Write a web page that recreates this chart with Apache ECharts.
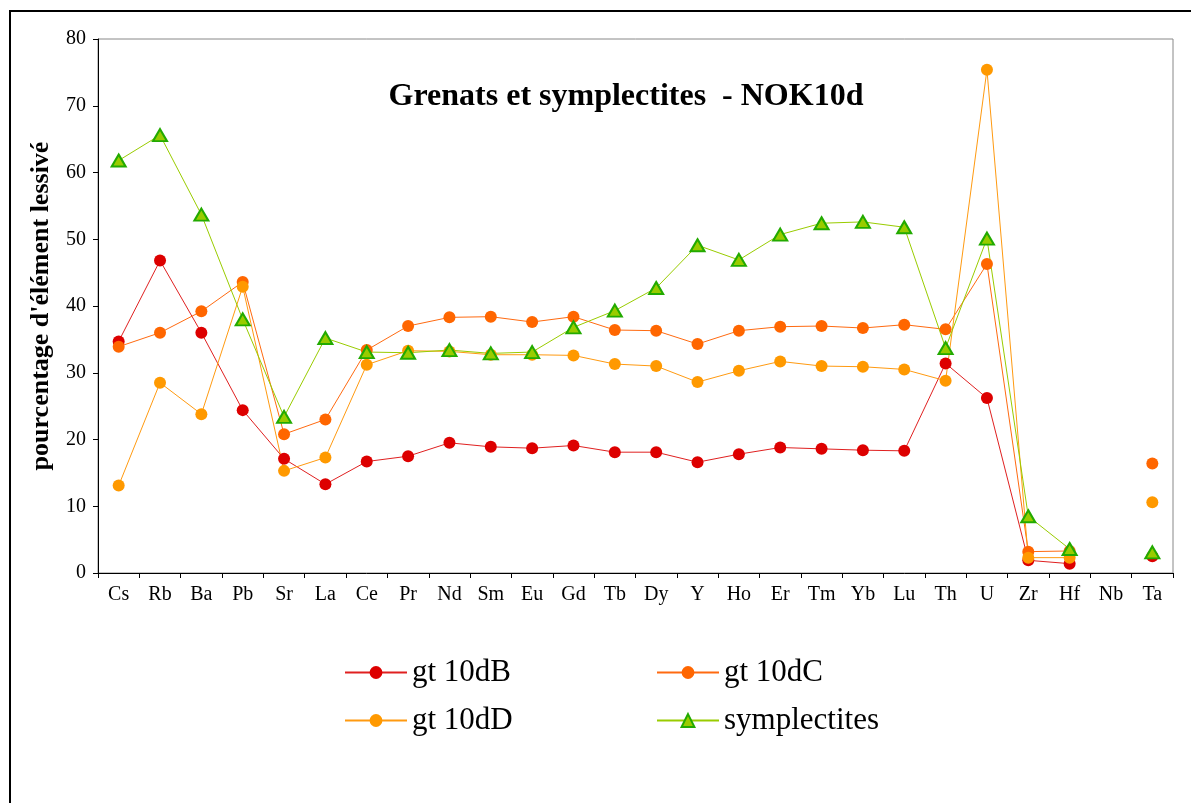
<!DOCTYPE html>
<html><head><meta charset="utf-8">
<script src="https://cdn.jsdelivr.net/npm/echarts@6/dist/echarts.min.js"></script>
<style>html,body{margin:0;padding:0;background:#fff}#c{width:1191px;height:803px}</style>
</head><body><div id="c"></div>
<script>
const categories = ['Cs','Rb','Ba','Pb','Sr','La','Ce','Pr','Nd','Sm','Eu','Gd','Tb','Dy','Y','Ho','Er','Tm','Yb','Lu','Th','U','Zr','Hf','Nb','Ta'];
const gt10dB = [34.7,46.8,36.0,24.4,17.1,13.3,16.7,17.5,19.5,18.9,18.7,19.1,18.1,18.1,16.6,17.8,18.8,18.6,18.4,18.3,31.4,26.2,1.9,1.4,null,2.5];
const gt10dC = [33.9,36.0,39.2,43.6,20.8,23.0,33.4,37.0,38.3,38.4,37.6,38.4,36.4,36.3,34.3,36.3,36.9,37.0,36.7,37.2,36.5,46.3,3.2,3.3,null,16.4];
const gt10dD = [13.1,28.5,23.8,42.9,15.3,17.3,31.2,33.3,33.2,32.7,32.7,32.6,31.3,31.0,28.6,30.3,31.7,31.0,30.9,30.5,28.8,75.4,2.3,2.3,null,10.6];
const symplectites = [61.8,65.6,53.7,38.0,23.4,35.2,33.1,33.0,33.4,32.9,33.1,36.8,39.3,42.7,49.1,46.9,50.7,52.4,52.6,51.8,33.7,50.1,8.5,3.6,null,3.1];
const seriesNames = ['gt 10dB','gt 10dC','gt 10dD','symplectites'];
const yTicks = {min:0, max:80, interval:10};
const titleText = 'Grenats et symplectites  - NOK10d';
const yName = "pourcentage d'élément lessivé";

const serif = '"Liberation Serif","Times New Roman","DejaVu Serif",serif';
function leg(name, left, top) {
  return {data:[name], left:left, top:top, orient:'horizontal', itemWidth:62, itemHeight:16, padding:0, itemGap:0,
    selectedMode:false, textStyle:{fontFamily:serif, fontSize:31, color:'#000'}};
}
function circ(name, data, color, lineColor) {
  return {name:name, type:'line', data:data, symbol:'circle', symbolSize:12, connectNulls:false,
    itemStyle:{color:color}, lineStyle:{color:lineColor, width:1}, emphasis:{disabled:true}};
}
const chart = echarts.init(document.getElementById('c'), null, {renderer:'canvas'});
chart.setOption({
  animation:false,
  backgroundColor:'#fff',
  graphic:[
    {type:'rect', z:-1, shape:{x:10, y:11, width:1400, height:1000}, style:{fill:'none', stroke:'#000', lineWidth:2}},
    {type:'text', x:626, y:97, style:{text:titleText, fontFamily:serif, fontSize:32, fontWeight:'bold', fill:'#000', align:'center', verticalAlign:'middle'}}
  ],
  legend:[leg(seriesNames[0],344,657), leg(seriesNames[1],656,657), leg(seriesNames[2],344,705), leg(seriesNames[3],656,705)],
  grid:{left:98, right:18, top:39, bottom:230, show:true, borderColor:'#888', borderWidth:1, backgroundColor:'transparent'},
  xAxis:{type:'category', data:categories, boundaryGap:true,
    axisLine:{show:true, lineStyle:{color:'#000', width:1}},
    axisTick:{show:true, length:5, inside:false, lineStyle:{color:'#000'}},
    axisLabel:{fontFamily:serif, fontSize:20, color:'#000', margin:12, interval:0},
    splitLine:{show:false}},
  yAxis:{type:'value', min:yTicks.min, max:yTicks.max, interval:yTicks.interval,
    axisLine:{show:true, lineStyle:{color:'#000', width:1}},
    axisTick:{show:true, length:5, inside:false, lineStyle:{color:'#000'}},
    axisLabel:{fontFamily:serif, fontSize:20, color:'#000', margin:12},
    splitLine:{show:false},
    name:yName, nameLocation:'middle', nameRotate:90, nameGap:44,
    nameTextStyle:{fontFamily:serif, fontSize:26, fontWeight:'bold', color:'#000'}},
  series:[
    circ(seriesNames[0], gt10dB, '#dd0000', '#e02020'),
    circ(seriesNames[1], gt10dC, '#ff6600', '#ff6a10'),
    circ(seriesNames[2], gt10dD, '#ff9900', '#ff9a10'),
    {name:seriesNames[3], type:'line', data:symplectites, symbol:'triangle', symbolSize:[14,12], connectNulls:false,
      itemStyle:{color:'#99cc00', borderColor:'#22aa00', borderWidth:2},
      lineStyle:{color:'#99cc00', width:1}, emphasis:{disabled:true}}
  ]
});
</script></body></html>
